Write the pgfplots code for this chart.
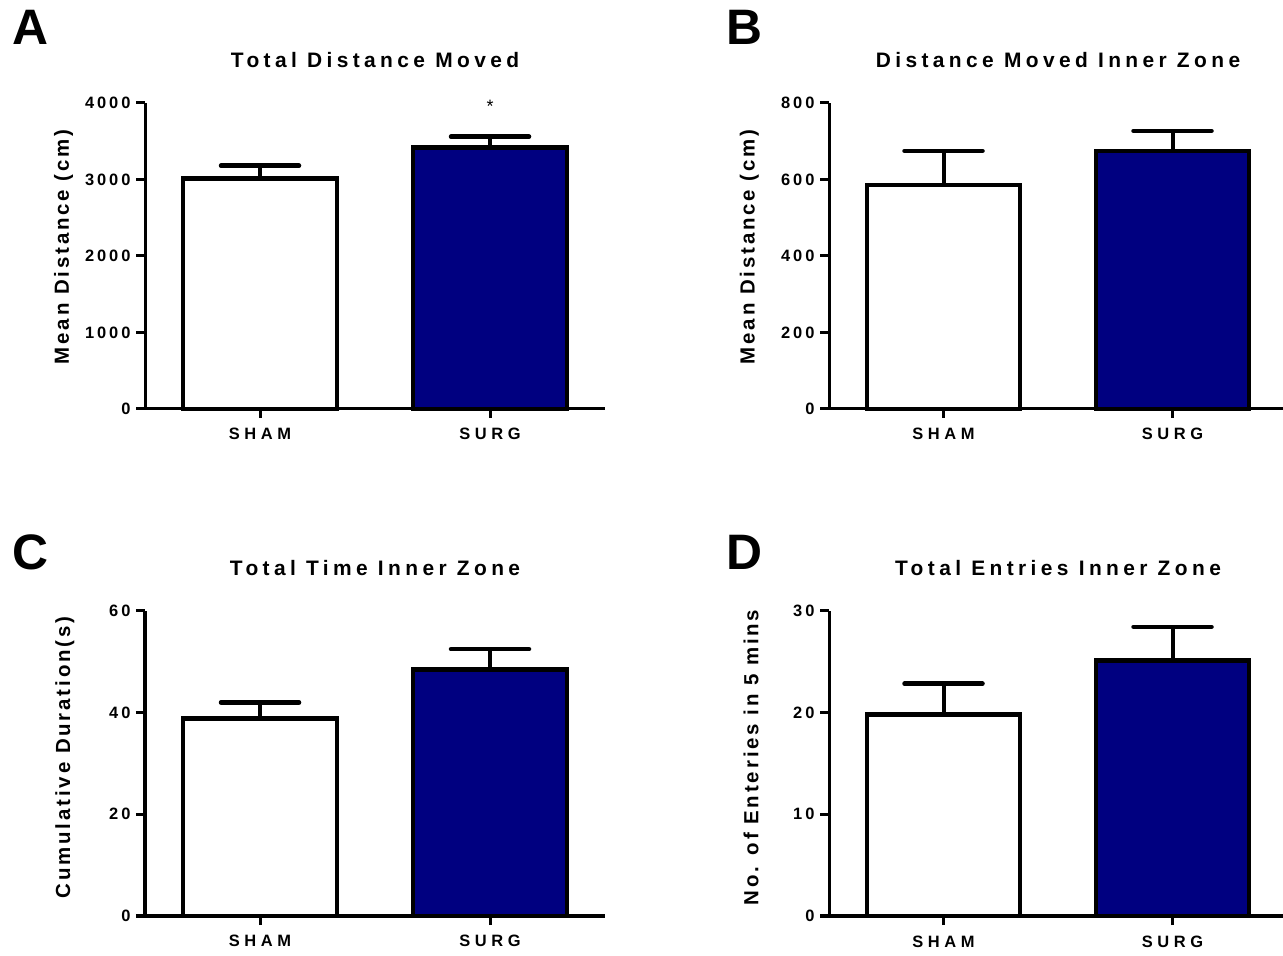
\documentclass[border=0pt]{standalone}
\usepackage{fontspec}
\setmainfont{Liberation Sans}
\newfontfamily\titlefont[LetterSpace=21]{Liberation Sans}
\newfontfamily\labfont[LetterSpace=14]{Liberation Sans}
\newfontfamily\ytickfont[LetterSpace=18]{Liberation Sans}
\newfontfamily\xtickfont[LetterSpace=28]{Liberation Sans}
\usepackage{pgfplots}
\pgfplotsset{compat=1.18}
\definecolor{navybar}{RGB}{0,0,128}

\pgfplotsset{
  panel/.style={
    scale only axis,
    axis x line*=bottom, axis y line*=left,
    axis line style={line width=3bp, black},
    xmin=-0.5, xmax=1.5, ymin=0,
    xtick={0,1}, xticklabels={SHAM,SURG},
    tick align=outside,
    major tick length=9bp,
    tick style={line width=3bp, black},
    /pgf/number format/1000 sep={},
    /pgf/number format/assume math mode=true,
    scaled y ticks=false,
    yticklabel style={font=\ytickfont\bfseries\fontsize{16.5}{17}\selectfont, xshift=-2bp},
    xticklabel style={font=\xtickfont\bfseries\fontsize{16.5}{17}\selectfont, yshift=-7bp},
    title style={font=\titlefont\bfseries\fontsize{21}{22}\selectfont, at={(axis description cs:0.5,1)}, anchor=base, yshift=30bp},
    ylabel style={font=\labfont\bfseries\fontsize{20.5}{21}\selectfont, anchor=center},
    clip=false,
  },
  barbase/.style={ybar, bar width=0.67, bar shift=0pt, draw=black, line width=4.5bp,
    error bars/.cd, y dir=plus, y explicit,
    error bar style={line width=4bp, black},
    error mark options={rotate=90, line width=4.5bp, mark size=39bp, black, line cap=round}},
  sham/.style={fill=white, barbase},
  surg/.style={fill=navybar, barbase},
}

\begin{document}
\begin{tikzpicture}
\useasboundingbox (0,0) rectangle (1283bp,956bp);

% Panel letters
\node[anchor=base west, inner sep=0pt, font=\bfseries\fontsize{50}{50}\selectfont] at (12bp,911bp) {A};
\node[anchor=base west, inner sep=0pt, font=\bfseries\fontsize{50}{50}\selectfont] at (726bp,911bp) {B};
\node[anchor=base west, inner sep=0pt, font=\bfseries\fontsize{50}{50}\selectfont] at (12bp,386bp) {C};
\node[anchor=base west, inner sep=0pt, font=\bfseries\fontsize{50}{50}\selectfont] at (726bp,386bp) {D};

% Panel A
\begin{axis}[panel, at={(145bp,547bp)}, anchor=south west, width=460bp, height=306bp,
  ymax=4000, ytick={0,1000,2000,3000,4000},
  title={Total Distance Moved}, ylabel={Mean Distance (cm)},
  ylabel style={at={(axis description cs:-0.177,0.53)}}]
\addplot[sham] coordinates {(0,3010) +- (0,170)};
\addplot[surg] coordinates {(1,3420) +- (0,140)};
\node[anchor=base, inner sep=0pt, font=\fontsize{18}{18}\selectfont] at (axis cs:1,3880) {*};
\end{axis}

% Panel B
\begin{axis}[panel, at={(829bp,547bp)}, anchor=south west, width=458bp, height=306bp,
  ymax=800, ytick={0,200,400,600,800},
  title={Distance Moved Inner Zone}, ylabel={Mean Distance (cm)},
  ylabel style={at={(axis description cs:-0.174,0.53)}}]
\addplot[sham] coordinates {(0,585) +- (0,90)};
\addplot[surg] coordinates {(1,675) +- (0,52)};
\end{axis}

% Panel C
\begin{axis}[panel, at={(145bp,40bp)}, anchor=south west, width=460bp, height=305bp,
  ymax=60, ytick={0,20,40,60},
  title={Total Time Inner Zone}, ylabel={Cumulative Duration(s)},
  ylabel style={at={(axis description cs:-0.174,0.52)}}]
\addplot[sham] coordinates {(0,38.9) +- (0,3.1)};
\addplot[surg] coordinates {(1,48.5) +- (0,4.0)};
\end{axis}

% Panel D
\begin{axis}[panel, at={(829bp,40bp)}, anchor=south west, width=458bp, height=305bp,
  ymax=30, ytick={0,10,20,30},
  title={Total Entries Inner Zone}, ylabel={No. of Enteries in 5 mins},
  ylabel style={at={(axis description cs:-0.170,0.52)}}]
\addplot[sham] coordinates {(0,19.8) +- (0,3.05)};
\addplot[surg] coordinates {(1,25.15) +- (0,3.3)};
\end{axis}
\end{tikzpicture}
\end{document}
